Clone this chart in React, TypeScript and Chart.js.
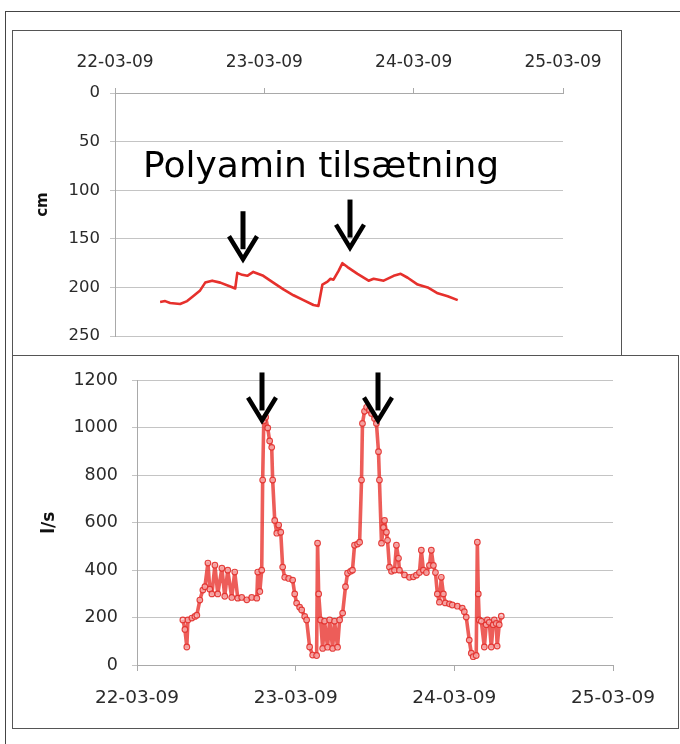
import React, { useEffect, useRef } from "react";
import { Chart, registerables } from "chart.js";

Chart.register(...registerables);

// ---------- data ----------
const dateLabels = ["22-03-09", "23-03-09", "24-03-09", "25-03-09"];

// top panel: water level (cm), x in days after 22-03-09 00:00
const levelDays = [
  0.302, 0.336, 0.369, 0.436, 0.483, 0.523, 0.57, 0.604, 0.651, 0.705, 0.772, 0.805,
  0.819, 0.852, 0.886, 0.926, 0.993, 1.06, 1.128, 1.195, 1.262, 1.329, 1.362, 1.389,
  1.423, 1.443, 1.463, 1.497, 1.523, 1.557, 1.624, 1.698, 1.732, 1.799, 1.866, 1.913,
  1.96, 2.027, 2.094, 2.161, 2.228, 2.295,
];
const levelCm = [
  215, 214, 216, 217, 214, 209, 203, 195, 193, 195, 199, 201,
  185, 187, 188, 184, 188, 195, 202, 208, 213, 218, 219, 197,
  194, 191, 192, 183, 175, 179, 186, 193, 191, 193, 188, 186,
  190, 197, 200, 206, 209, 213,
];

// bottom panel: flow (l/s)
const flowDays = [
  0.289, 0.302, 0.314, 0.321, 0.346, 0.365, 0.377, 0.396, 0.415, 0.428, 0.447, 0.459,
  0.472, 0.491, 0.509, 0.535, 0.553, 0.572, 0.597, 0.616, 0.635, 0.66, 0.692, 0.723,
  0.755, 0.761, 0.774, 0.786, 0.792, 0.799, 0.811, 0.824, 0.836, 0.849, 0.855, 0.868,
  0.881, 0.893, 0.906, 0.918, 0.931, 0.956, 0.981, 0.994, 1.006, 1.025, 1.038, 1.057,
  1.069, 1.088, 1.107, 1.132, 1.138, 1.145, 1.157, 1.17, 1.182, 1.201, 1.214, 1.233,
  1.245, 1.264, 1.277, 1.296, 1.314, 1.327, 1.346, 1.358, 1.371, 1.39, 1.403, 1.415,
  1.421, 1.434, 1.447, 1.465, 1.478, 1.497, 1.509, 1.522, 1.528, 1.541, 1.553, 1.56,
  1.572, 1.579, 1.591, 1.604, 1.623, 1.635, 1.648, 1.654, 1.686, 1.717, 1.742, 1.761,
  1.78, 1.792, 1.805, 1.824, 1.843, 1.855, 1.868, 1.881, 1.893, 1.906, 1.918, 1.931,
  1.943, 1.969, 1.987, 2.019, 2.05, 2.063, 2.075, 2.094, 2.107, 2.119, 2.138, 2.145,
  2.151, 2.157, 2.17, 2.189, 2.201, 2.208, 2.22, 2.233, 2.245, 2.252, 2.264, 2.27,
  2.283, 2.296,
];
const flowLs = [
  190, 150, 76, 190, 198, 205, 210, 274, 316, 330, 430, 320,
  300, 421, 300, 408, 290, 400, 285, 392, 282, 285, 275, 285,
  282, 392, 310, 400, 780, 1030, 1045, 1000, 945, 918, 780, 610,
  556, 590, 560, 413, 370, 365, 358, 300, 261, 244, 232, 205,
  190, 76, 42, 40, 514, 300, 190, 70, 185, 75, 190, 70,
  185, 75, 190, 219, 330, 387, 395, 400, 505, 510, 518, 780,
  1019, 1070, 1087, 1075, 1061, 1040, 1019, 900, 780, 514, 580, 610,
  560, 526, 413, 395, 400, 505, 450, 400, 380, 370, 372, 379,
  390, 484, 400, 390, 420, 484, 420, 390, 300, 265, 370, 300,
  262, 258, 253, 248, 240, 225, 202, 105, 50, 35, 40, 518,
  300, 190, 185, 76, 170, 190, 180, 76, 170, 190, 175, 80,
  170, 206,
];

// annotations (arrow tips in data coordinates)
const levelArrowDays = [0.859, 1.577];
const levelArrowCm = [173, 161];
const flowArrowDays = [0.786, 1.516];
const flowArrowLs = [1023, 1023];
const noteText = "Polyamin tilsætning";
const noteDay = 0.188;
const noteCm = 86;

const FONT = '"DejaVu Sans", Verdana, sans-serif';

const overlayPlugin = {
  id: "overlay",
  afterDraw(chart: any, _args: any, opts: any) {
    const ctx = chart.ctx;
    const xs = chart.scales.x;
    const ys = chart.scales.y;
    const ca = chart.chartArea;
    ctx.save();
    if (opts.title) {
      ctx.save();
      ctx.font = `bold ${opts.titleSize}px ${FONT}`;
      ctx.fillStyle = "#111";
      ctx.translate(ca.left + opts.titleDx, (ca.top + ca.bottom) / 2 + opts.titleDy);
      ctx.rotate(-Math.PI / 2);
      ctx.textAlign = "center";
      ctx.textBaseline = "middle";
      ctx.fillText(opts.title, 0, 0);
      ctx.restore();
    }
    ctx.strokeStyle = "#000";
    (opts.arrowX || []).forEach((d: number, i: number) => {
      const x = Math.round(xs.getPixelForValue(d));
      const tip = ys.getPixelForValue(opts.arrowY[i]);
      ctx.lineCap = "butt";
      ctx.lineWidth = 5;
      ctx.beginPath();
      ctx.moveTo(x, tip - 50);
      ctx.lineTo(x, tip - 12);
      ctx.stroke();
      ctx.lineWidth = 4.5;
      ctx.lineJoin = "miter";
      ctx.beginPath();
      ctx.moveTo(x - 14, tip - 25);
      ctx.lineTo(x, tip - 2);
      ctx.lineTo(x + 14, tip - 25);
      ctx.stroke();
    });
    if (opts.note) {
      ctx.font = `${opts.noteSize}px ${FONT}`;
      ctx.fillStyle = "#000";
      ctx.textAlign = "left";
      ctx.textBaseline = "alphabetic";
      ctx.fillText(opts.note, xs.getPixelForValue(opts.noteX), ys.getPixelForValue(opts.noteY));
    }
    ctx.restore();
  },
};

const GRID = "#c4c4c4";
const AXIS = "#a9a9a9";
const TICK_COLOR = "#2a2a2a";
const plain = (v: any) => String(v);

function LevelChart() {
  const ref = useRef<HTMLCanvasElement>(null);
  useEffect(() => {
    const chart = new Chart(ref.current as HTMLCanvasElement, {
      type: "line",
      data: {
        datasets: [
          {
            data: levelDays.map((d, i) => ({ x: d, y: levelCm[i] })),
            borderColor: "#e6302c",
            borderWidth: 2.6,
            borderJoinStyle: "round",
            pointRadius: 0,
            tension: 0,
          },
        ],
      },
      options: {
        responsive: false,
        animation: false,
        devicePixelRatio: 1,
        layout: { padding: { left: 0, right: 59, top: 0, bottom: 19 } },
        plugins: {
          legend: { display: false },
          tooltip: { enabled: false },
          overlay: {
            title: "cm",
            titleSize: 15,
            titleDx: -72,
            titleDy: -10,
            arrowX: levelArrowDays,
            arrowY: levelArrowCm,
            note: noteText,
            noteSize: 36,
            noteX: noteDay,
            noteY: noteCm,
          },
        } as any,
        scales: {
          x: {
            type: "linear",
            position: "top",
            min: 0,
            max: 3,
            afterFit: (s: any) => {
              s.height = 63;
            },
            ticks: {
              stepSize: 1,
              padding: 15,
              color: TICK_COLOR,
              font: { family: FONT, size: 17 },
              callback: (v: any) => dateLabels[Number(v)] ?? "",
              maxRotation: 0,
            },
            grid: { drawOnChartArea: false, drawTicks: true, tickLength: 5, color: AXIS },
            border: { display: true, color: AXIS },
          },
          y: {
            reverse: true,
            min: 0,
            max: 250,
            afterFit: (s: any) => {
              s.width = 103;
            },
            ticks: {
              stepSize: 50,
              padding: 10,
              color: TICK_COLOR,
              font: { family: FONT, size: 16.5 },
              callback: plain,
            },
            grid: { color: GRID, tickLength: 5, drawTicks: true },
            border: { display: true, color: AXIS },
          },
        },
      },
      plugins: [overlayPlugin],
    });
    return () => chart.destroy();
  }, []);
  return (
    <canvas
      ref={ref}
      width={610}
      height={326}
      style={{ position: "absolute", left: 12, top: 30, width: 610, height: 326 }}
    />
  );
}

function FlowChart() {
  const ref = useRef<HTMLCanvasElement>(null);
  useEffect(() => {
    const chart = new Chart(ref.current as HTMLCanvasElement, {
      type: "line",
      data: {
        datasets: [
          {
            data: flowDays.map((d, i) => ({ x: d, y: flowLs[i] })),
            borderColor: "rgba(232,52,48,0.8)",
            borderWidth: 3.6,
            borderJoinStyle: "round",
            pointRadius: 2.8,
            pointBorderWidth: 1.2,
            pointBorderColor: "rgba(226,48,44,0.9)",
            pointBackgroundColor: "rgba(250,190,190,0.7)",
            tension: 0,
          },
        ],
      },
      options: {
        responsive: false,
        animation: false,
        devicePixelRatio: 1,
        layout: { padding: { left: 0, right: 66, top: 24, bottom: 0 } },
        plugins: {
          legend: { display: false },
          tooltip: { enabled: false },
          overlay: {
            title: "l/s",
            titleSize: 17,
            titleDx: -87,
            titleDy: 0,
            arrowX: flowArrowDays,
            arrowY: flowArrowLs,
          },
        } as any,
        scales: {
          x: {
            type: "linear",
            position: "bottom",
            min: 0,
            max: 3,
            afterFit: (s: any) => {
              s.height = 64;
            },
            ticks: {
              stepSize: 1,
              padding: 16,
              color: TICK_COLOR,
              font: { family: FONT, size: 18.5 },
              callback: (v: any) => dateLabels[Number(v)] ?? "",
              maxRotation: 0,
            },
            grid: { drawOnChartArea: false, drawTicks: true, tickLength: 6, color: AXIS },
            border: { display: true, color: AXIS },
          },
          y: {
            min: 0,
            max: 1200,
            afterFit: (s: any) => {
              s.width = 125;
            },
            ticks: {
              stepSize: 200,
              padding: 14,
              color: TICK_COLOR,
              font: { family: FONT, size: 17.5 },
              callback: plain,
            },
            grid: { color: GRID, tickLength: 5, drawTicks: true },
            border: { display: true, color: AXIS },
          },
        },
      },
      plugins: [overlayPlugin],
    });
    return () => chart.destroy();
  }, []);
  return (
    <canvas
      ref={ref}
      width={667}
      height={373}
      style={{ position: "absolute", left: 12, top: 356, width: 667, height: 373 }}
    />
  );
}

export default function App() {
  return (
    <div style={{ position: "absolute", left: 0, top: 0, width: 680, height: 744, overflow: "hidden", background: "#fff" }}>
      <LevelChart />
      <FlowChart />
      <div
        style={{
          position: "absolute",
          left: 5,
          top: 11,
          width: 700,
          height: 760,
          border: "1px solid #444",
          pointerEvents: "none",
        }}
      />
      <div
        style={{
          position: "absolute",
          left: 12,
          top: 30,
          width: 610,
          height: 326,
          boxSizing: "border-box",
          border: "1px solid #555",
          pointerEvents: "none",
        }}
      />
      <div
        style={{
          position: "absolute",
          left: 12,
          top: 355,
          width: 667,
          height: 374,
          boxSizing: "border-box",
          border: "1px solid #555",
          pointerEvents: "none",
        }}
      />
    </div>
  );
}
